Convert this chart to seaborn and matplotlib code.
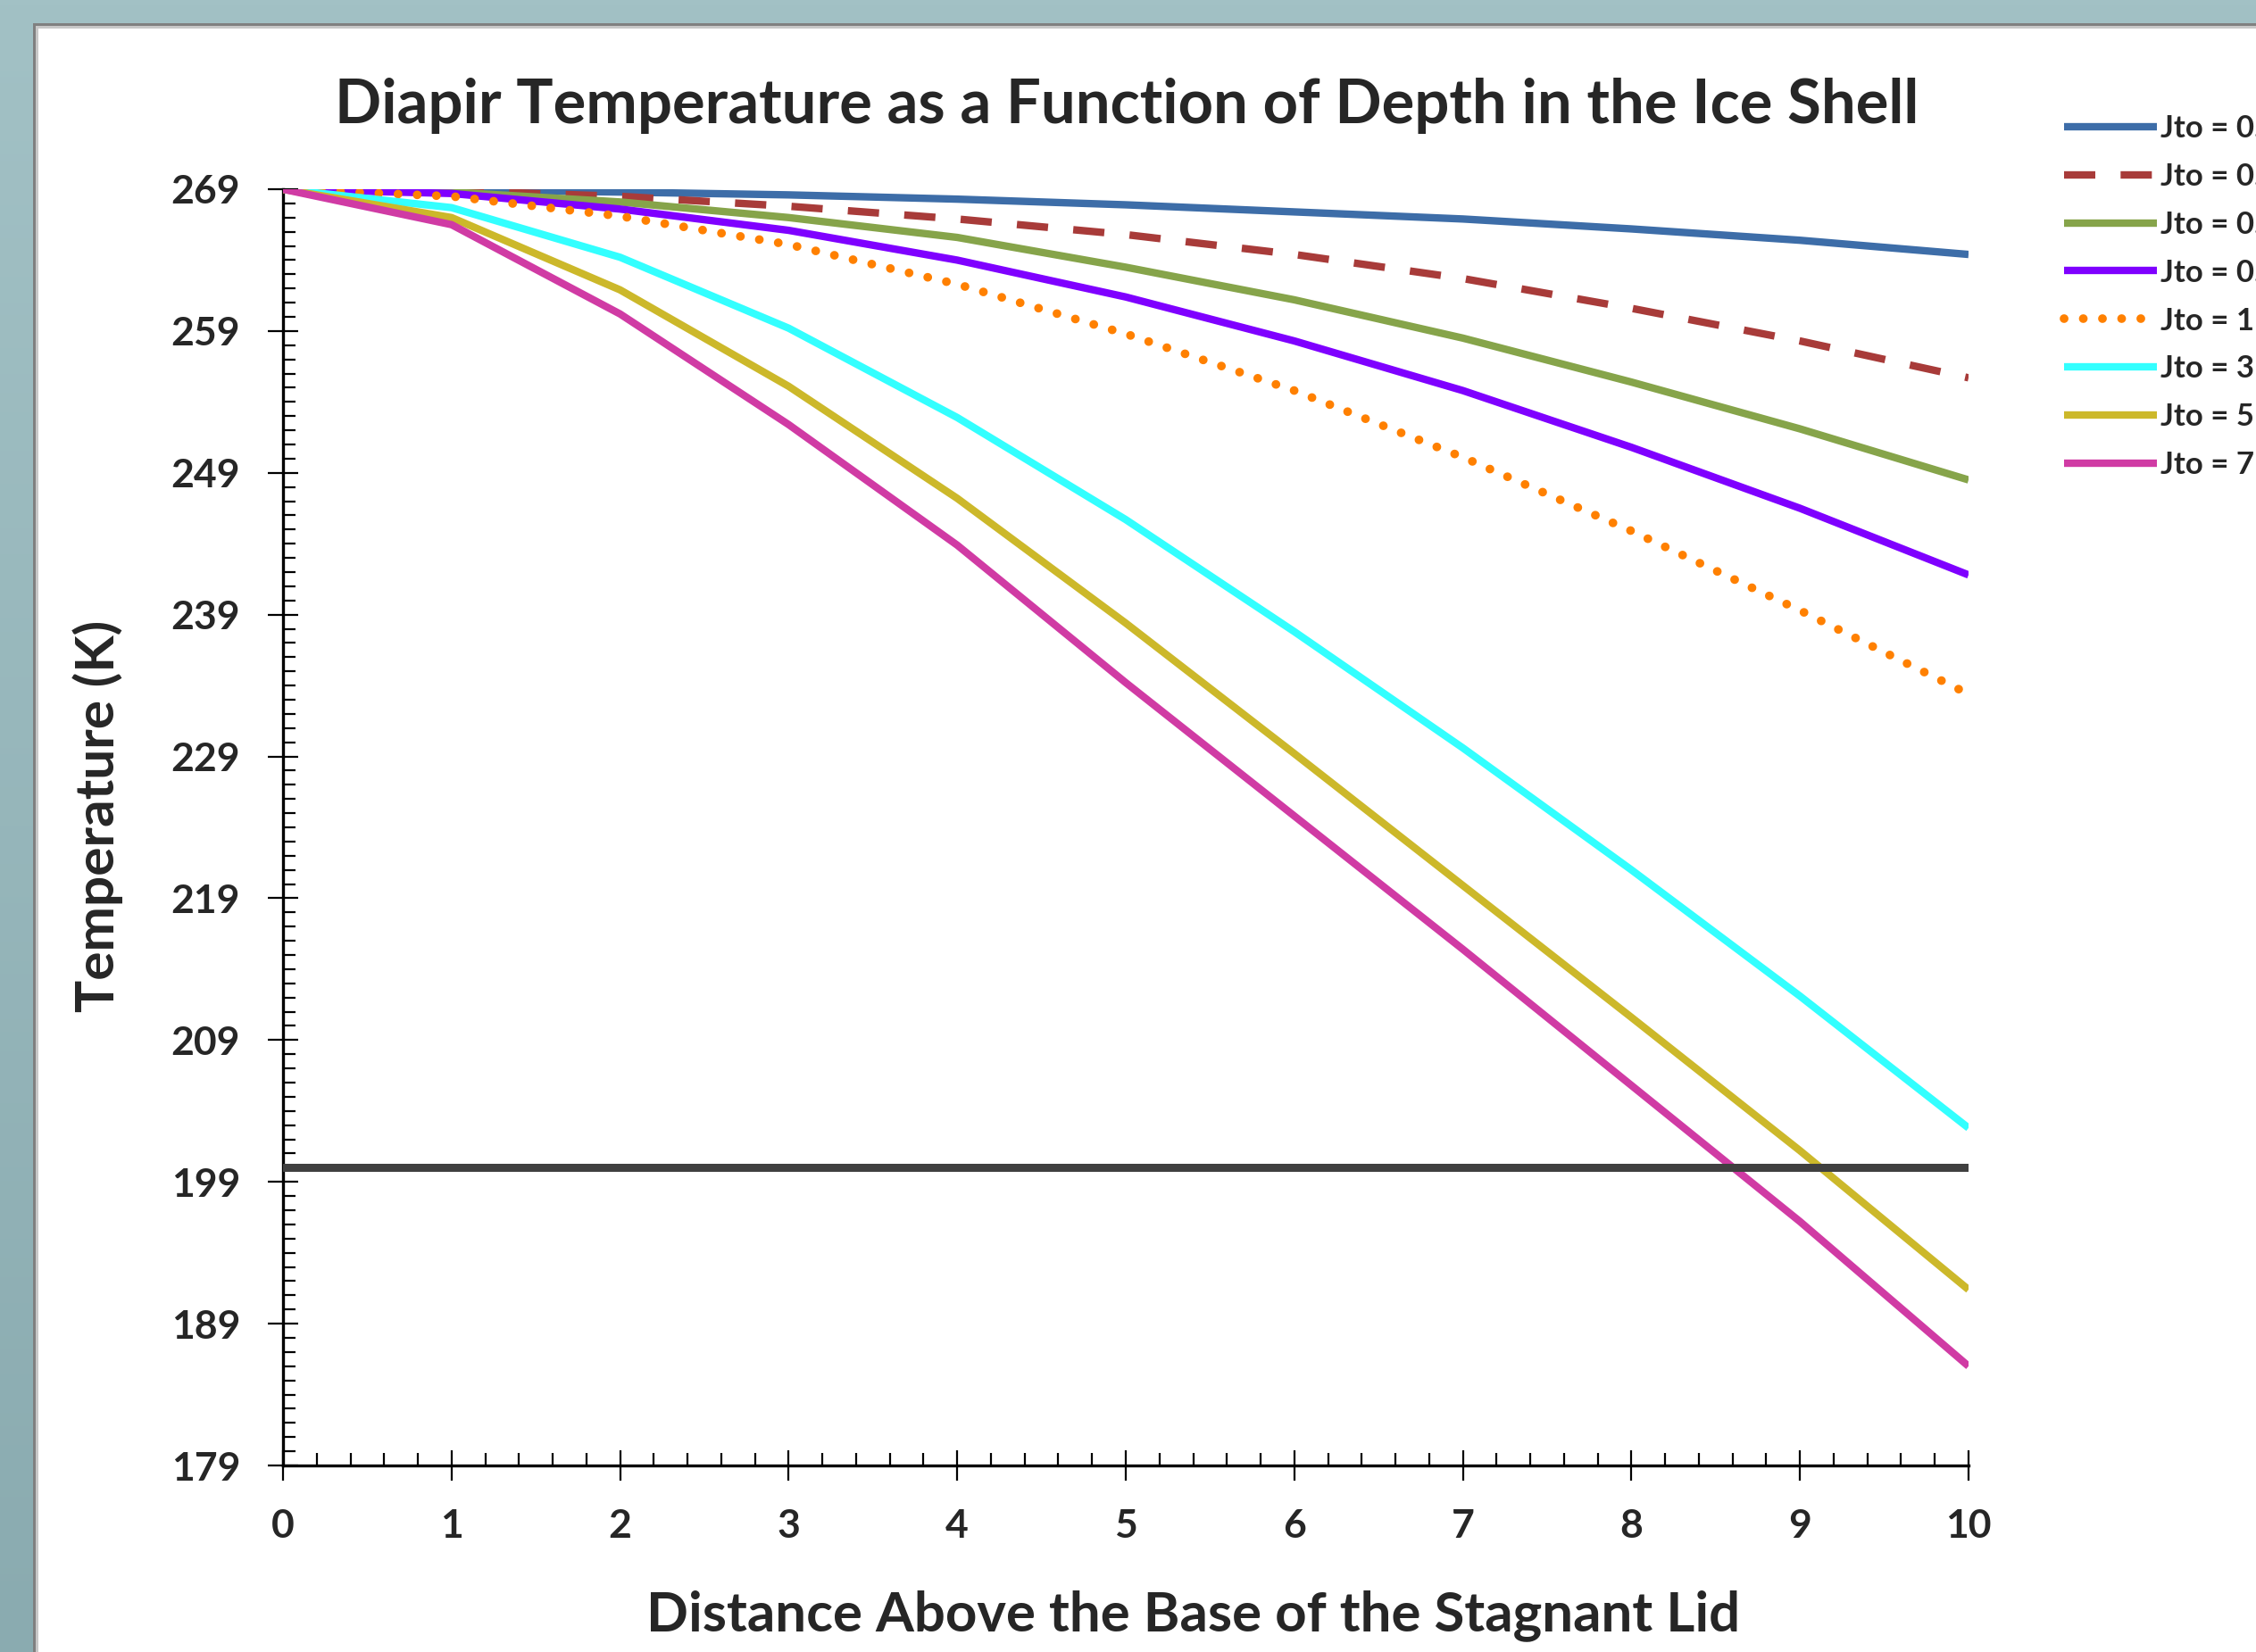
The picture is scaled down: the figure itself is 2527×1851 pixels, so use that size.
import numpy as np
import pandas as pd
import matplotlib
matplotlib.use("Agg")
import matplotlib.pyplot as plt
import seaborn as sns
from matplotlib.ticker import MultipleLocator, FixedLocator
from matplotlib.patches import Rectangle
from matplotlib.colors import LinearSegmentedColormap

# ---------------- data ----------------
distance = [0, 1, 2, 3, 4, 5, 6, 7, 8, 9, 10]
labels = ["Jto = 0.01", "Jto = 0.05", "Jto = 0.1", "Jto = 0.5",
          "Jto = 1", "Jto = 3", "Jto = 5", "Jto = 7"]
t_001 = [269, 268.95, 268.8, 268.6, 268.3, 267.9, 267.4, 266.9, 266.2, 265.4, 264.4]
t_005 = [269, 268.9, 268.5, 267.8, 266.9, 265.8, 264.4, 262.7, 260.6, 258.3, 255.7]
t_01 = [269, 268.8, 268.1, 267.0, 265.6, 263.5, 261.2, 258.5, 255.4, 252.1, 248.5]
t_05 = [269, 268.7, 267.6, 266.1, 264.0, 261.4, 258.3, 254.8, 250.8, 246.5, 241.8]
t_1 = [269, 268.5, 267.1, 265.1, 262.3, 258.8, 254.8, 250.1, 244.9, 239.3, 233.4]
t_3 = [269, 267.7, 264.2, 259.2, 252.9, 245.7, 237.8, 229.6, 221.0, 212.1, 202.8]
t_5 = [269, 267.0, 261.9, 255.1, 247.2, 238.4, 229.2, 219.9, 210.6, 201.2, 191.4]
t_7 = [269, 266.5, 260.2, 252.4, 243.9, 234.2, 224.8, 215.4, 205.8, 196.2, 186.0]
series = [t_001, t_005, t_01, t_05, t_1, t_3, t_5, t_7]
threshold = 200
y_ticks = [179, 189, 199, 209, 219, 229, 239, 249, 259, 269]
x_ticks = [0, 1, 2, 3, 4, 5, 6, 7, 8, 9, 10]

colors = ["#3D6DA8", "#A83B39", "#86A44A", "#7F00FF",
          "#FF8000", "#33FFFF", "#CCB82A", "#D03BA4"]
styles = ["-", (0, (4.2, 3.4)), "-", "-", (0, (0.01, 2.2)), "-", "-", "-"]
caps = ["butt", "butt", "butt", "butt", "round", "butt", "butt", "butt"]
widths = [6, 6, 6, 6, 7, 6, 6, 6]

rows = []
for lab, vals in zip(labels, series):
    for d, t in zip(distance, vals):
        rows.append({"Distance": d, "Temperature": t, "Series": lab})
df = pd.DataFrame(rows)

# ---------------- style ----------------
sns.set_theme(style="white")
plt.rcParams["font.family"] = ["Lato", "DejaVu Sans"]
plt.rcParams["font.weight"] = "bold"

W, H = 2527, 1851
fig = plt.figure(figsize=(W / 100, H / 100), dpi=100)

# slide background gradient
bg = fig.add_axes([0, 0, 1, 1], zorder=-10)
cmap = LinearSegmentedColormap.from_list("bg", ["#A2C1C5", "#8AABB0"])
grad = np.linspace(0, 1, 256).reshape(-1, 1)
bg.imshow(grad, aspect="auto", cmap=cmap, extent=[0, 1, 0, 1])
bg.set_axis_off()

# white panel with grey border on left/top
px, py = 37 / W, 1 - 26 / H
fig.patches.append(Rectangle((px, 0), 1 - px, py, transform=fig.transFigure,
                             facecolor="#808080", edgecolor="none", zorder=-5))
fig.patches.append(Rectangle((px + 3 / W, 0), 1, py - 3 / H, transform=fig.transFigure,
                             facecolor="#C8C8C8", edgecolor="none", zorder=-4))
fig.patches.append(Rectangle((px + 6 / W, 0), 1, py - 6 / H, transform=fig.transFigure,
                             facecolor="white", edgecolor="none", zorder=-3))

x0, x1 = 317 / W, 2205 / W
ytop, ybot = 1 - 212 / H, 1 - 1642 / H
ax = fig.add_axes([x0, ybot, x1 - x0, ytop - ybot])
ax.set_facecolor("none")

for lab, col, ls, cap, lw in zip(labels, colors, styles, caps, widths):
    sub = df[df["Series"] == lab]
    sns.lineplot(data=sub, x="Distance", y="Temperature", ax=ax, color=col,
                 linestyle=ls, linewidth=lw, label=lab, dash_capstyle=cap,
                 solid_capstyle="butt", solid_joinstyle="round", zorder=3)

ax.axhline(threshold, color="#404040", linewidth=6.5, zorder=4, xmin=0, xmax=1)

ax.set_xlim(0, 10)
ax.set_ylim(179, 269)
ax.xaxis.set_major_locator(FixedLocator(x_ticks))
ax.yaxis.set_major_locator(FixedLocator(y_ticks))
ax.xaxis.set_minor_locator(MultipleLocator(0.2))
ax.yaxis.set_minor_locator(MultipleLocator(1))

for s in ["top", "right"]:
    ax.spines[s].set_visible(False)
for s in ["left", "bottom"]:
    ax.spines[s].set_color("black")
    ax.spines[s].set_linewidth(2.4)

ax.tick_params(axis="both", which="major", direction="inout", length=25, width=1.6,
               color="black", labelsize=32, left=True, bottom=True)
ax.tick_params(axis="x", which="major", pad=22)
ax.tick_params(axis="y", which="major", pad=22)
ax.tick_params(axis="both", which="minor", direction="in", length=10, width=1.6,
               color="black", left=True, bottom=True)
for t in ax.get_xticklabels() + ax.get_yticklabels():
    t.set_fontweight("bold")

ax.set_xlabel("")
ax.set_ylabel("")
fig.text(1337 / W, 1 - 1810 / H, "Distance Above the Base of the Stagnant Lid",
         ha="center", va="center", fontsize=44.5, fontweight="bold")
fig.text(110 / W, 1 - 914 / H, "Temperature (K)", rotation=90,
         ha="center", va="center", fontsize=43.5, fontweight="bold")
fig.text(1262 / W, 1 - 118 / H,
         "Diapir Temperature as a Function of Depth in the Ice Shell",
         ha="center", va="center", fontsize=49.5, fontweight="bold")

ax.get_legend().remove()
handles, labs = ax.get_legend_handles_labels()
leg = fig.legend(handles, labs, loc="upper left",
                 bbox_to_anchor=(2312 / W, 1 - 128 / H), frameon=False,
                 handlelength=3.0, handletextpad=0.12,
                 labelspacing=0.63, borderpad=0, borderaxespad=0,
                 prop={"weight": "bold", "size": 25})

fig.savefig("out.png", dpi=100)
